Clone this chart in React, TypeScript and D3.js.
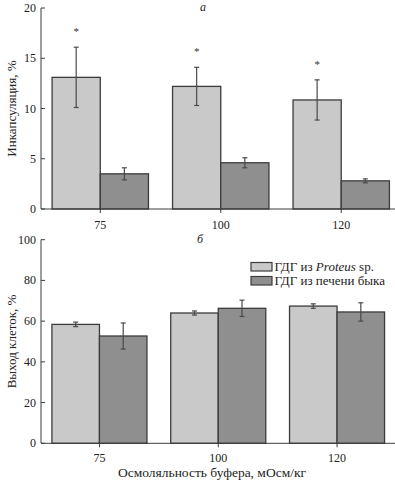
import React from 'react';
import * as d3 from 'd3';

const categories = ['75', '100', '120'];
const seriesNames = ['proteus', 'bull'];

// panel а: encapsulation, %
const encProteus = [13.1, 12.2, 10.85];
const encProteusErr = [3.0, 1.9, 2.0];
const encBull = [3.5, 4.6, 2.8];
const encBullErr = [0.6, 0.5, 0.2];
const encStars = [true, true, true];
const encTicks = [0, 5, 10, 15, 20];

// panel б: cell yield, %
const yieldProteus = [58.4, 64.0, 67.4];
const yieldProteusErr = [1.1, 1.0, 1.1];
const yieldBull = [52.7, 66.3, 64.5];
const yieldBullErr = [6.4, 4.0, 4.5];
const yieldTicks = [0, 20, 40, 60, 80, 100];

const W = 395;
const H = 482;
const FONT = 'Liberation Serif';
const LIGHT = '#c9c9c9';
const DARK = '#8f8f8f';
const STROKE = '#3c3c3c';
const ERR = '#4a4a4a';

interface PanelProps {
  top: number;
  bottom: number;
  right: number;
  yMax: number;
  ticks: number[];
  a: number[];
  aErr: number[];
  b: number[];
  bErr: number[];
  stars?: boolean[];
  yTitle: string;
  tickLabelY: number;
}

const Panel: React.FC<PanelProps> = (p) => {
  const left = 41;
  const y = d3.scaleLinear().domain([0, p.yMax]).range([p.bottom, p.top]);
  const x0 = d3
    .scaleBand<string>()
    .domain(categories)
    .range([left, p.right])
    .paddingInner(0.2)
    .paddingOuter(0.092);
  const x1 = d3.scaleBand<string>().domain(seriesNames).range([0, x0.bandwidth()]);

  const rows = categories.map((c, i) => ({
    c,
    bars: [
      { s: 'proteus', v: p.a[i], e: p.aErr[i], fill: LIGHT },
      { s: 'bull', v: p.b[i], e: p.bErr[i], fill: DARK },
    ],
    star: p.stars ? p.stars[i] : false,
  }));

  return (
    <g>
      {rows.map((r) => (
        <g key={r.c} transform={`translate(${x0(r.c)},0)`}>
          {r.bars.map((b) => {
            const bx = x1(b.s)!;
            const cx = bx + x1.bandwidth() / 2;
            return (
              <g key={b.s}>
                <rect
                  x={bx}
                  y={y(b.v)}
                  width={x1.bandwidth()}
                  height={p.bottom - y(b.v)}
                  fill={b.fill}
                  stroke={STROKE}
                  strokeWidth={1.3}
                />
                <line x1={cx} x2={cx} y1={y(b.v + b.e)} y2={y(b.v - b.e)} stroke={ERR} strokeWidth={1.2} />
                <line x1={cx - 2.5} x2={cx + 2.5} y1={y(b.v + b.e)} y2={y(b.v + b.e)} stroke={ERR} strokeWidth={1.2} />
                <line x1={cx - 2.5} x2={cx + 2.5} y1={y(b.v - b.e)} y2={y(b.v - b.e)} stroke={ERR} strokeWidth={1.2} />
                {b.s === 'proteus' && r.star && (
                  <text x={cx} y={y(b.v + b.e) - 12} textAnchor="middle" fontSize={11} fill="#333" fontFamily={FONT}>
                    *
                  </text>
                )}
              </g>
            );
          })}
        </g>
      ))}
      {/* axes */}
      <line x1={left} x2={left} y1={p.top} y2={p.bottom} stroke={STROKE} strokeWidth={1} />
      <line x1={left} x2={W} y1={p.bottom} y2={p.bottom} stroke={STROKE} strokeWidth={1} />
      {p.ticks.map((t) => (
        <g key={t}>
          <line x1={left} x2={left + 4} y1={y(t)} y2={y(t)} stroke={STROKE} strokeWidth={1} />
          <text x={left - 5} y={y(t) + 4} textAnchor="end" fontSize={12} fill="#222" fontFamily={FONT}>
            {t}
          </text>
        </g>
      ))}
      {categories.map((c) => {
        const cx = x0(c)! + x0.bandwidth() / 2;
        return (
          <g key={c}>
            <line x1={cx} x2={cx} y1={p.bottom} y2={p.bottom + 4} stroke={STROKE} strokeWidth={1} />
            <text x={cx} y={p.tickLabelY} textAnchor="middle" fontSize={12} fill="#222" fontFamily={FONT}>
              {c}
            </text>
          </g>
        );
      })}
      <text
        transform={`translate(16,${(p.top + p.bottom) / 2}) rotate(-90)`}
        textAnchor="middle"
        fontSize={13}
        fill="#222"
        fontFamily={FONT}
      >
        {p.yTitle}
      </text>
    </g>
  );
};

export default function App() {
  return (
    <svg width={W} height={H} style={{ position: 'absolute', left: 0, top: 0, background: '#fff' }}>
      <rect width={W} height={H} fill="#fff" />
      <Panel
        top={8}
        bottom={209}
        right={400.5}
        yMax={20}
        ticks={encTicks}
        a={encProteus}
        aErr={encProteusErr}
        b={encBull}
        bErr={encBullErr}
        stars={encStars}
        yTitle="Инкапсуляция, %"
        tickLabelY={229}
      />
      <text x={200} y={11} fontSize={12} fontStyle="italic" fill="#222" fontFamily={FONT}>
        а
      </text>
      <Panel
        top={239.7}
        bottom={443.3}
        right={395.5}
        yMax={100}
        ticks={yieldTicks}
        a={yieldProteus}
        aErr={yieldProteusErr}
        b={yieldBull}
        bErr={yieldBullErr}
        yTitle="Выход клеток, %"
        tickLabelY={462}
      />
      <text x={197} y={243} fontSize={12} fontStyle="italic" fill="#222" fontFamily={FONT}>
        б
      </text>
      {/* legend */}
      <rect x={251} y={262.5} width={21} height={8.5} fill={LIGHT} stroke={STROKE} strokeWidth={1.2} />
      <rect x={251} y={276.5} width={21} height={8.5} fill={DARK} stroke={STROKE} strokeWidth={1.2} />
      <text x={274.5} y={271} fontSize={13} fill="#222" fontFamily={FONT}>
        ГДГ из <tspan fontStyle="italic">Proteus</tspan> sp.
      </text>
      <text x={274.5} y={285} fontSize={13} fill="#222" fontFamily={FONT}>
        ГДГ из печени быка
      </text>
      <text x={212} y={477} textAnchor="middle" fontSize={13.5} fill="#222" fontFamily={FONT}>
        Осмоляльность буфера, мОсм/кг
      </text>
    </svg>
  );
}
